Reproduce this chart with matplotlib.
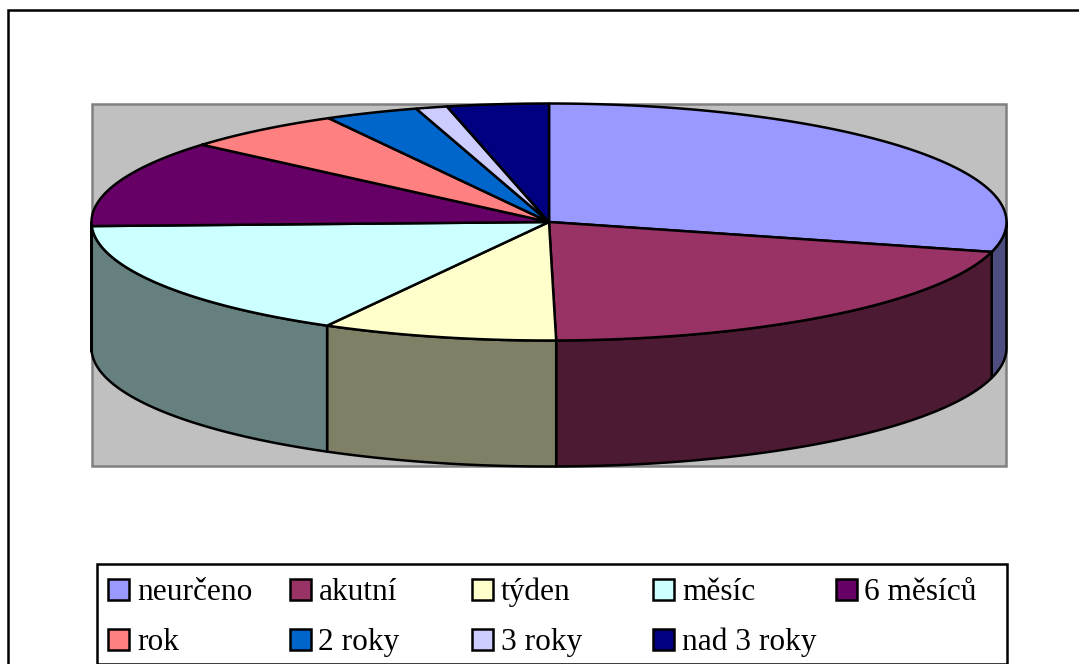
import numpy as np
import matplotlib
matplotlib.use("Agg")
import matplotlib.pyplot as plt
from matplotlib.patches import Polygon, Rectangle
from matplotlib.colors import to_rgb

labels = ["neurčeno", "akutní", "týden", "měsíc", "6 měsíců", "rok", "2 roky", "3 roky", "nad 3 roky"]
values = [29.06, 20.69, 8.31, 16.39, 11.85, 5.70, 3.31, 1.11, 3.58]
colors = ["#9999FF", "#993366", "#FFFFCC", "#CCFFFF", "#660066", "#FF8080", "#0066CC", "#CCCCFF", "#000080"]

W, H = 1079, 664
CX, CY, A, B, DEPTH = 549.0, 222.0, 457.5, 118.5, 126.0
LW = 1.8

fig = plt.figure(figsize=(W / 100, H / 100), dpi=100, facecolor="white")
ax = fig.add_axes([0, 0, 1, 1])
ax.set_xlim(0, W)
ax.set_ylim(H, 0)
ax.axis("off")

# chart frame
ax.plot([7.8, 7.8, W + 5], [H + 5, 10, 10], color="black", lw=LW, solid_joinstyle="miter", zorder=1)
# plot area
ax.add_patch(Rectangle((91.5, 103.5), 914.5, 362.5, facecolor="#C0C0C0", edgecolor="#808080", lw=LW, zorder=1))

def pt(deg, dy=0.0):
    t = np.radians(deg)
    return np.column_stack([CX + A * np.sin(t), CY - B * np.cos(t) + dy])

def arc(a0, a1, dy=0.0):
    n = max(2, int(abs(a1 - a0) * 3) + 2)
    return pt(np.linspace(a0, a1, n), dy)

edges = np.concatenate([[0.0], np.cumsum(values)]) / np.sum(values) * 360.0

# side walls: only the front half of the disc (90 to 270 degrees) is visible
for i, c in enumerate(colors):
    a0, a1 = max(edges[i], 90.0), min(edges[i + 1], 270.0)
    if a1 <= a0:
        continue
    top = arc(a0, a1)
    bot = arc(a0, a1, DEPTH)[::-1]
    dark = tuple(0.5 * v for v in to_rgb(c))
    ax.add_patch(Polygon(np.vstack([top, bot]), closed=True, facecolor=dark, edgecolor="black",
                         lw=LW, joinstyle="round", zorder=2))

# top face
for i, c in enumerate(colors):
    rim = arc(edges[i], edges[i + 1])
    ax.add_patch(Polygon(np.vstack([[[CX, CY]], rim]), closed=True, facecolor=c, edgecolor="black",
                         lw=LW, joinstyle="round", zorder=3))

# legend
ax.add_patch(Rectangle((96.5, 564), 910.5, 99.5, facecolor="white", edgecolor="black", lw=LW, zorder=4))
col_x = [108, 289.5, 472, 653, 835.5]
row_y = [579, 629]
SW = 21
for i, (lab, c) in enumerate(zip(labels, colors)):
    x, y = col_x[i % 5], row_y[i // 5]
    ax.add_patch(Rectangle((x, y), SW, SW, facecolor=c, edgecolor="black", lw=LW, zorder=5))
    ax.text(x + 29, y + 21, lab, fontsize=22.6, family="Liberation Serif", color="black",
            ha="left", va="baseline", zorder=5)

fig.savefig("out.png", dpi=100, facecolor="white")
